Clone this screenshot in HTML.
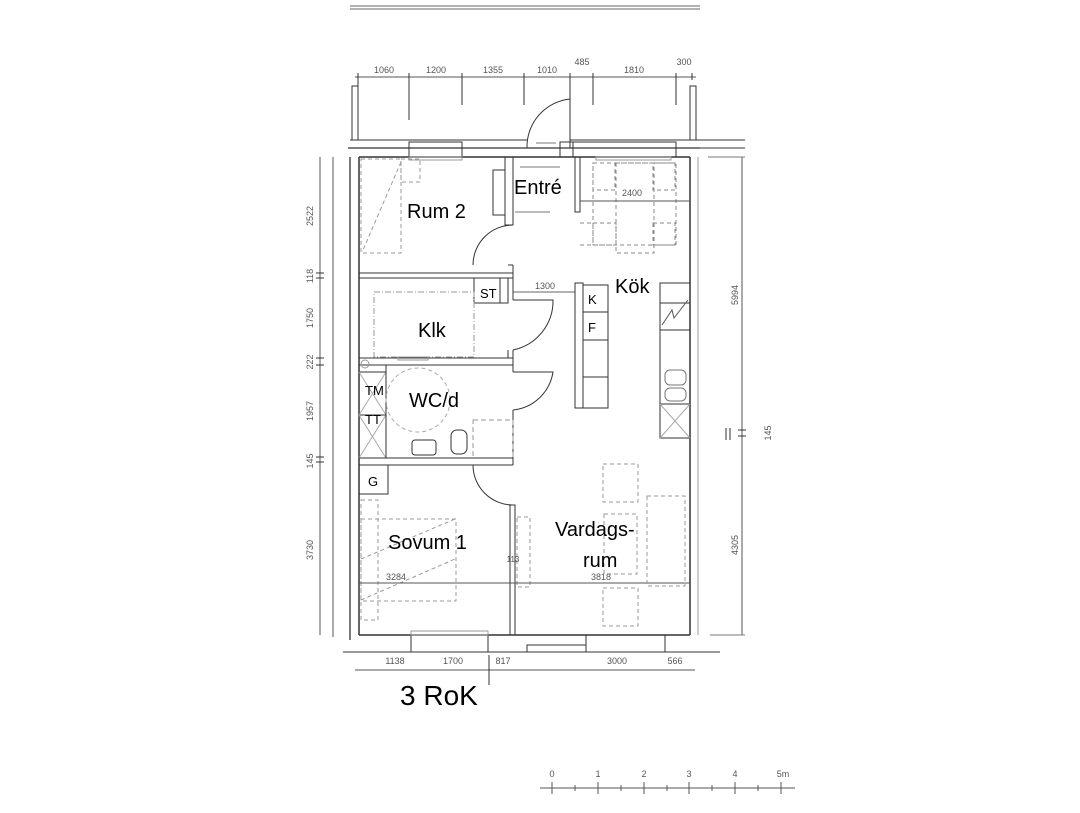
<!DOCTYPE html>
<html><head><meta charset="utf-8"><style>
html,body{margin:0;padding:0;background:#fff}
svg{display:block}
.t{font-family:"Liberation Sans",sans-serif;fill:#000}
.d{font-family:"Liberation Sans",sans-serif;font-size:9px;fill:#555}
</style></head><body>
<svg width="1080" height="813" viewBox="0 0 1080 813" xmlns="http://www.w3.org/2000/svg">
<g fill="none" stroke="#333" stroke-width="1">
<!-- top lines -->
<line x1="350" y1="6" x2="700" y2="6" stroke="#666"/>
<line x1="350" y1="9" x2="700" y2="9" stroke="#666"/>
<!-- top dims -->
<line x1="355" y1="77" x2="696" y2="77" stroke="#555"/>
<g stroke="#333">
<line x1="358" y1="73" x2="358" y2="140"/><line x1="409" y1="73" x2="409" y2="120"/>
<line x1="462" y1="73" x2="462" y2="105"/><line x1="524" y1="73" x2="524" y2="105"/>
<line x1="570" y1="73" x2="570" y2="148"/><line x1="593" y1="73" x2="593" y2="105"/>
<line x1="676" y1="73" x2="676" y2="105"/><line x1="692" y1="73" x2="692" y2="80"/>
</g>
<!-- balcony -->
<rect x="352" y="86" width="6" height="54"/><rect x="690" y="86" width="6" height="54"/>
<line x1="350" y1="140" x2="527" y2="140"/><line x1="570" y1="140" x2="745" y2="140"/>
<line x1="698" y1="148" x2="745" y2="148"/>
<!-- entry door -->
<path d="M570 99 A 48 48 0 0 0 527 148"/>
<line x1="536" y1="143" x2="556" y2="143" stroke="#777"/>
<!-- outer walls -->
<line x1="348" y1="148" x2="700" y2="148" stroke-width="1.3"/>
<line x1="359" y1="157" x2="690" y2="157" stroke-width="1.5"/>
<line x1="350" y1="157" x2="350" y2="640" stroke-width="1.3"/>
<line x1="359" y1="157" x2="359" y2="635" stroke-width="1.5"/>
<line x1="690" y1="157" x2="690" y2="635" stroke-width="1.5"/>
<line x1="698" y1="157" x2="698" y2="635" stroke="#999"/>
<line x1="359" y1="635" x2="690" y2="635" stroke-width="1.5"/>
<line x1="343" y1="652" x2="720" y2="652"/>
<!-- top windows -->
<rect x="409" y="142" width="53" height="15"/><rect x="573" y="142" width="103" height="15"/>
<rect x="409" y="157" width="53" height="3" stroke="#999"/><rect x="596" y="157" width="75" height="3" stroke="#999"/>
<rect x="560" y="142" width="13" height="15"/>
<!-- bottom windows -->
<rect x="411" y="635" width="77" height="17"/><rect x="586" y="635" width="79" height="17"/>
<rect x="527" y="645" width="59" height="7"/><rect x="411" y="631" width="77" height="4" stroke="#999"/>
<!-- Rum2 walls -->
<rect x="505" y="157" width="8" height="68"/>
<path d="M513 225 A 40 40 0 0 0 473 265"/>
<line x1="359" y1="273" x2="513" y2="273"/><line x1="359" y1="278" x2="513" y2="278"/>
<line x1="508" y1="265" x2="513" y2="265"/><line x1="513" y1="265" x2="513" y2="300"/>
<rect x="493" y="170" width="12" height="45"/>
<line x1="515" y1="212" x2="550" y2="212" stroke="#777"/>
<line x1="520" y1="167" x2="560" y2="167" stroke="#777"/>
<!-- dashed bed rum2 -->
<g stroke="#999" stroke-dasharray="4,3">
<rect x="361" y="159" width="40" height="94"/><rect x="401" y="159" width="19" height="23"/>
<line x1="401" y1="162" x2="363" y2="250"/>
</g>
<!-- kitchen stub -->
<rect x="575" y="157" width="5" height="55"/>
<!-- dining dashed -->
<g stroke="#888" stroke-dasharray="4,3">
<rect x="593" y="163" width="83" height="82"/><rect x="616" y="163" width="38" height="90"/>
<rect x="593" y="223" width="23" height="22"/><rect x="653" y="223" width="22" height="22"/>
<rect x="653" y="163" width="22" height="27"/><rect x="593" y="163" width="22" height="27"/>
<line x1="580" y1="245" x2="593" y2="245"/><line x1="580" y1="223" x2="593" y2="223"/>
</g>
<line x1="580" y1="201" x2="690" y2="201" stroke="#555"/>
<!-- Klk -->
<rect x="474" y="278" width="26" height="25"/><rect x="500" y="278" width="8" height="25"/>
<path d="M513 300 H553 A 50 50 0 0 1 513 350" />
<line x1="359" y1="358" x2="513" y2="358"/><line x1="359" y1="365" x2="513" y2="365"/>
<line x1="513" y1="350" x2="513" y2="372"/><line x1="508" y1="350" x2="508" y2="358"/>
<line x1="513" y1="292" x2="575" y2="292" stroke="#666"/>
<g stroke="#999" stroke-dasharray="6,2,1,2"><rect x="374" y="292" width="100" height="65"/></g>
<circle cx="365" cy="364" r="4" stroke="#999"/>
<rect x="398" y="357" width="30" height="3" stroke="#999"/>
<!-- WC -->
<rect x="359" y="372" width="27" height="86"/>
<line x1="359" y1="415" x2="386" y2="415"/>
<path d="M359 372 L386 415 M386 372 L359 415 M359 415 L386 458 M386 415 L359 458" stroke="#aaa"/>
<line x1="386" y1="365" x2="386" y2="458"/>
<circle cx="418" cy="400" r="32" stroke="#aaa" stroke-dasharray="4,3"/>
<path d="M513 372 H553 A 45 45 0 0 1 513 410"/>
<line x1="513" y1="410" x2="513" y2="465"/>
<rect x="473" y="420" width="40" height="38" stroke="#999" stroke-dasharray="5,3"/>
<rect x="412" y="440" width="24" height="15" rx="3"/><rect x="451" y="430" width="16" height="24" rx="6"/>
<line x1="359" y1="458" x2="513" y2="458"/><line x1="359" y1="465" x2="513" y2="465"/>
<!-- Sovum -->
<rect x="359" y="465" width="29" height="29"/>
<path d="M473 465 A 40 40 0 0 0 513 505"/>
<rect x="510" y="505" width="5" height="130"/>
<g stroke="#999" stroke-dasharray="4,3">
<rect x="361" y="500" width="17" height="120"/><rect x="361" y="519" width="95" height="82"/>
<line x1="361" y1="559" x2="455" y2="519"/><line x1="361" y1="600" x2="455" y2="559"/>
<rect x="517" y="517" width="13" height="70"/>
</g>
<line x1="359" y1="583" x2="690" y2="583" stroke="#555"/>
<!-- living dashed -->
<g stroke="#999" stroke-dasharray="4,3">
<rect x="603" y="464" width="35" height="38"/><rect x="604" y="514" width="33" height="60"/>
<rect x="647" y="496" width="38" height="90"/><rect x="603" y="588" width="35" height="38"/>
</g>
<!-- island -->
<rect x="575" y="283" width="8" height="125"/>
<rect x="583" y="285" width="25" height="123"/>
<rect x="583" y="285" width="25" height="27"/><rect x="583" y="312" width="25" height="28"/>
<line x1="583" y1="377" x2="608" y2="377"/>
<!-- right counter -->
<rect x="660" y="283" width="30" height="155"/>
<line x1="660" y1="303" x2="690" y2="303"/><line x1="660" y1="330" x2="690" y2="330"/>
<line x1="660" y1="404" x2="690" y2="404"/>
<path d="M662 325 L672 310 L674 318 L688 300" stroke="#555"/>
<rect x="665" y="370" width="21" height="15" rx="5" stroke="#777"/><rect x="665" y="388" width="21" height="13" rx="5" stroke="#777"/>
<path d="M660 404 L690 438 M690 404 L660 438" stroke="#aaa"/>
<!-- left dims -->
<line x1="320" y1="157" x2="320" y2="635" stroke="#555"/>
<g stroke="#333"><line x1="316" y1="273" x2="324" y2="273"/><line x1="316" y1="278" x2="324" y2="278"/>
<line x1="316" y1="358" x2="324" y2="358"/><line x1="316" y1="365" x2="324" y2="365"/>
<line x1="316" y1="457" x2="324" y2="457"/><line x1="316" y1="462" x2="324" y2="462"/></g>
<line x1="333" y1="157" x2="333" y2="637" stroke="#555"/>
<!-- right dims -->
<line x1="742" y1="157" x2="742" y2="635" stroke="#555"/>
<line x1="708" y1="157" x2="745" y2="157" stroke="#777"/>
<line x1="726" y1="428" x2="726" y2="440"/><line x1="730" y1="428" x2="730" y2="440"/>
<line x1="738" y1="430" x2="746" y2="430"/><line x1="738" y1="436" x2="746" y2="436"/>
<line x1="710" y1="635" x2="745" y2="635" stroke="#777"/>
<!-- bottom dims -->
<line x1="355" y1="670" x2="695" y2="670" stroke="#555"/>
<line x1="489" y1="655" x2="489" y2="685"/>
<!-- scale bar -->
<line x1="540" y1="788" x2="795" y2="788" stroke="#555"/>
<g stroke="#555">
<line x1="552" y1="782" x2="552" y2="794"/><line x1="598" y1="782" x2="598" y2="794"/><line x1="644" y1="782" x2="644" y2="794"/>
<line x1="689" y1="782" x2="689" y2="794"/><line x1="735" y1="782" x2="735" y2="794"/><line x1="781" y1="782" x2="781" y2="794"/>
<line x1="575" y1="785" x2="575" y2="791"/><line x1="621" y1="785" x2="621" y2="791"/><line x1="667" y1="785" x2="667" y2="791"/>
<line x1="712" y1="785" x2="712" y2="791"/><line x1="758" y1="785" x2="758" y2="791"/>
</g>
</g>
<!-- dim text -->
<g class="d" text-anchor="middle">
<text x="384" y="73">1060</text><text x="436" y="73">1200</text><text x="493" y="73">1355</text>
<text x="547" y="73">1010</text><text x="582" y="65">485</text><text x="634" y="73">1810</text><text x="684" y="65">300</text>
<text x="632" y="196">2400</text><text x="545" y="289">1300</text>
<text x="396" y="580">3284</text><text x="601" y="580">3818</text><text x="513" y="562" font-size="8">113</text>
<text x="395" y="664">1138</text><text x="453" y="664">1700</text><text x="503" y="664">817</text>
<text x="617" y="664">3000</text><text x="675" y="664">566</text>
<text transform="translate(313,216) rotate(-90)">2522</text>
<text transform="translate(313,276) rotate(-90)">118</text>
<text transform="translate(313,318) rotate(-90)">1750</text>
<text transform="translate(313,362) rotate(-90)">222</text>
<text transform="translate(313,411) rotate(-90)">1957</text>
<text transform="translate(313,461) rotate(-90)">145</text>
<text transform="translate(313,550) rotate(-90)">3730</text>
<text transform="translate(738,295) rotate(-90)">5994</text>
<text transform="translate(771,433) rotate(-90)">145</text>
<text transform="translate(738,545) rotate(-90)">4305</text>
</g>
<g class="d" text-anchor="middle" font-size="12">
<text x="552" y="777">0</text><text x="598" y="777">1</text><text x="644" y="777">2</text>
<text x="689" y="777">3</text><text x="735" y="777">4</text><text x="783" y="777">5m</text>
</g>
<!-- room labels -->
<g class="t" font-size="20">
<text x="407" y="218">Rum 2</text>
<text x="514" y="194">Entré</text>
<text x="615" y="293">Kök</text>
<text x="418" y="337">Klk</text>
<text x="409" y="407">WC/d</text>
<text x="388" y="549">Sovum 1</text>
<text x="555" y="536">Vardags-</text>
<text x="583" y="567">rum</text>
</g>
<g class="t" font-size="13">
<text x="480" y="298">ST</text><text x="588" y="304">K</text><text x="588" y="332">F</text>
<text x="365" y="395">TM</text><text x="365" y="424">TT</text><text x="368" y="486">G</text>
</g>
<text class="t" x="400" y="705" font-size="28">3 RoK</text>
</svg>
</body></html>
